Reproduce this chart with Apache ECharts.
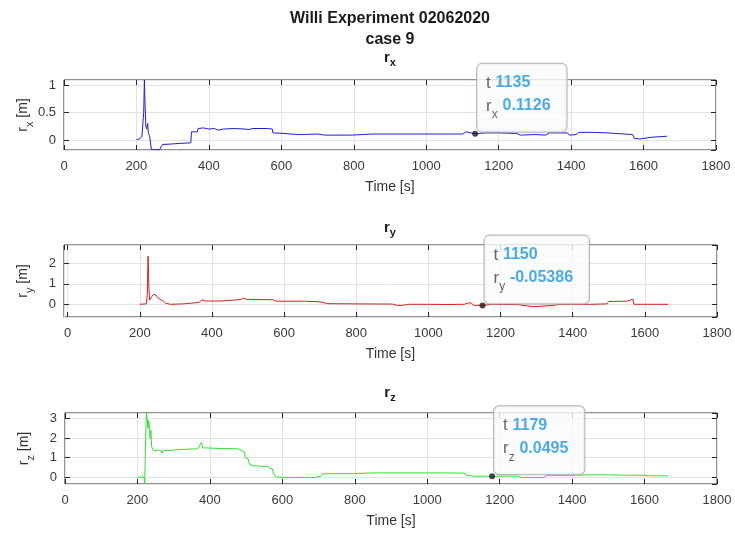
<!DOCTYPE html>
<html><head><meta charset="utf-8">
<script src="https://cdn.jsdelivr.net/npm/echarts@6/dist/echarts.min.js"></script>
<style>html,body{margin:0;padding:0;background:#fff}#c{width:735px;height:534px}</style>
</head><body><div id="c"></div>
<script>
// ---------- data ----------
const rxTime  = [200,208,215,218,220,222,224,226,228,231,233,236,238,241,245,264,268,272,300,320,322,350,352,368,370,385,400,415,425,440,470,500,510,520,560,575,577,610,625,650,700,720,795,800,850,900,1000,1100,1105,1110,1115,1135,1160,1200,1250,1260,1300,1330,1340,1390,1395,1415,1420,1460,1500,1505,1570,1575,1590,1595,1620,1625,1665];
const rxValue = [0.01,0.02,0.06,0.05,0.5,1.09,0.6,0.25,0.2,0.3,0.12,0.08,0.0,-0.17,-0.18,-0.18,-0.12,-0.08,-0.07,-0.06,-0.05,-0.05,0.15,0.15,0.21,0.22,0.20,0.21,0.18,0.20,0.21,0.20,0.19,0.21,0.21,0.20,0.13,0.12,0.11,0.10,0.11,0.09,0.09,0.12,0.11,0.11,0.11,0.11,0.14,0.15,0.12,0.1126,0.13,0.13,0.12,0.09,0.10,0.09,0.13,0.13,0.09,0.10,0.14,0.14,0.13,0.11,0.10,0.03,0.02,0.05,0.05,0.07,0.07];

const ryTime  = [200,218,221,223,225,227,230,233,236,239,242,245,250,255,260,266,272,285,320,325,365,372,377,382,425,430,480,488,495,570,578,660,700,720,800,900,915,930,945,1000,1050,1100,1110,1120,1125,1150,1165,1180,1250,1255,1290,1295,1350,1360,1400,1450,1495,1500,1550,1560,1567,1570,1600,1665];
const ryValue = [0.0,0.02,0.5,2.35,1.0,0.2,0.25,0.38,0.45,0.48,0.42,0.45,0.32,0.30,0.20,0.15,0.05,0.0,0.02,0.08,0.09,0.22,0.28,0.16,0.16,0.22,0.23,0.30,0.24,0.22,0.15,0.15,0.12,0.03,0.02,0.01,-0.06,-0.05,0.0,0.0,-0.01,0.0,0.07,0.05,-0.05,-0.05386,-0.03,0.0,-0.02,-0.10,-0.12,-0.06,-0.05,0.0,0.0,0.0,0.02,0.14,0.15,0.20,0.25,0.0,0.0,0.0];

const rzTime  = [200,218,220,222,224,225,227,229,231,233,235,237,239,242,250,258,264,267,270,275,320,360,368,372,377,380,390,430,480,488,495,498,505,510,520,560,566,572,578,585,620,690,705,712,720,790,795,850,950,1050,1100,1110,1130,1179,1250,1260,1320,1330,1400,1450,1500,1550,1600,1610,1665];
const rzValue = [0.0,0.0,-0.35,1.5,2.8,3.28,3.0,2.5,2.9,2.6,2.0,2.4,1.6,1.4,1.35,1.4,1.38,1.22,1.35,1.42,1.42,1.45,1.5,1.6,1.78,1.5,1.5,1.47,1.45,1.35,1.3,1.0,0.95,0.65,0.58,0.55,0.45,0.42,0.1,0.0,-0.02,-0.02,0.05,0.15,0.18,0.18,0.21,0.22,0.22,0.22,0.21,0.10,0.05,0.0495,0.06,-0.02,-0.02,0.08,0.10,0.12,0.12,0.10,0.10,0.07,0.07];

const xTickLabels = [0,200,400,600,800,1000,1200,1400,1600,1800];
const xMins = [0, -10, 0];
const xMaxs = [1800, 1800, 1800];
const yMins = [-0.18, -0.62, -0.35];
const yMaxs = [1.09, 2.89, 3.29];
const ySteps = [0.5, 1, 1];
const subNames = ['x', 'y', 'z'];
const lineColors = ['#1f1fcf', '#d42020', '#2fe02f'];
const tipTimes  = [1135, 1150, 1179];
const tipValues = [0.1126, -0.05386, 0.0495];
const tipTexts  = ['0.1126', '-0.05386', '0.0495'];

// ---------- layout / style ----------
const grids = [
  {left: 64, top: 80, width: 652, height: 70},
  {left: 64, top: 245, width: 653, height: 72},
  {left: 65, top: 413, width: 652, height: 71}
];
const subTitleTops = [50, 220, 385];
const FONT = "'Liberation Sans',Arial,sans-serif";
const AX = '#262626';

const series = [[rxTime, rxValue], [ryTime, ryValue], [rzTime, rzValue]];

const option = {
  animation: false,
  backgroundColor: '#ffffff',
  title: [],
  grid: [],
  xAxis: [],
  yAxis: [],
  series: []
};

option.title.push({
  text: 'Willi Experiment 02062020\ncase 9',
  left: 390, top: 8, padding: 0, textAlign: 'center',
  textStyle: {fontFamily: FONT, fontWeight: 'bold', fontSize: 16, lineHeight: 21, color: '#1a1a1a'}
});

const fmt = v => String(v);
const noLine = {show: false, onZero: false};

for (let i = 0; i < 3; i++) {
  const g = grids[i];
  option.grid.push(Object.assign({show: true, borderColor: AX, borderWidth: 1, backgroundColor: '#fff', containLabel: false}, g));
  option.title.push({
    text: '{a|r}{b|' + subNames[i] + '}',
    left: 390, top: subTitleTops[i], padding: 0, textAlign: 'center',
    textStyle: {rich: {
      a: {fontFamily: FONT, fontWeight: 'bold', fontSize: 15, color: '#1a1a1a', lineHeight: 18, verticalAlign: 'top'},
      b: {fontFamily: FONT, fontWeight: 'bold', fontSize: 11, color: '#1a1a1a', lineHeight: 11, verticalAlign: 'bottom'}
    }}
  });
  // main x axis
  option.xAxis.push({
    type: 'value', gridIndex: i, position: 'bottom',
    min: xMins[i], max: xMaxs[i], minInterval: 200, maxInterval: 200,
    name: 'Time [s]', nameLocation: 'middle', nameGap: 30, nameMoveOverlap: false,
    nameTextStyle: {fontFamily: FONT, fontSize: 14, color: '#333'},
    axisLine: noLine,
    axisTick: {show: true, inside: true, length: 5, lineStyle: {color: AX}},
    axisLabel: {show: true, margin: 10, fontFamily: FONT, fontSize: 13, color: '#3a3a3a', formatter: fmt,
      showMinLabel: xMins[i] === 0, showMaxLabel: true},
    splitLine: {show: true, lineStyle: {color: '#e3e3e3', width: 1}}
  });
  // mirrored top ticks
  option.xAxis.push({
    type: 'value', gridIndex: i, position: 'top',
    min: xMins[i], max: xMaxs[i], minInterval: 200, maxInterval: 200,
    axisLine: noLine,
    axisTick: {show: true, inside: true, length: 5, lineStyle: {color: AX}},
    axisLabel: {show: false}, splitLine: {show: false}
  });
  option.yAxis.push({
    type: 'value', gridIndex: i, position: 'left',
    min: yMins[i], max: yMaxs[i], minInterval: ySteps[i], maxInterval: ySteps[i],
    name: '{a|r}{b|' + subNames[i] + '}{a| [m]}', nameLocation: 'middle', nameGap: 29, nameMoveOverlap: false,
    nameTextStyle: {rich: {
      a: {fontFamily: FONT, fontSize: 14, color: '#333', lineHeight: 19, verticalAlign: 'top'},
      b: {fontFamily: FONT, fontSize: 11, color: '#333', lineHeight: 11, verticalAlign: 'bottom'}
    }},
    axisLine: noLine,
    axisTick: {show: true, inside: true, length: 5, lineStyle: {color: AX}},
    axisLabel: {show: true, margin: 8, fontFamily: FONT, fontSize: 13, color: '#3a3a3a', formatter: fmt,
      showMinLabel: false, showMaxLabel: false},
    splitLine: {show: true, lineStyle: {color: '#e3e3e3', width: 1}}
  });
  option.yAxis.push({
    type: 'value', gridIndex: i, position: 'right',
    min: yMins[i], max: yMaxs[i], minInterval: ySteps[i], maxInterval: ySteps[i],
    axisLine: noLine,
    axisTick: {show: true, inside: true, length: 5, lineStyle: {color: AX}},
    axisLabel: {show: false}, splitLine: {show: false}
  });
  const [ts, vs] = series[i];
  option.series.push({
    type: 'line', xAxisIndex: 2 * i, yAxisIndex: 2 * i,
    data: ts.map((t, k) => [t, vs[k]]),
    showSymbol: false, symbol: 'none', clip: true, z: 3,
    lineStyle: {color: lineColors[i], width: 1}
  });
  option.series.push({
    type: 'scatter', xAxisIndex: 2 * i, yAxisIndex: 2 * i, z: 10,
    data: [[tipTimes[i], tipValues[i]]],
    symbol: 'circle', symbolSize: 6, itemStyle: {color: '#1a1a1a'},
    label: {
      show: true, position: [5, 1], align: 'left', verticalAlign: 'bottom',
      formatter: '{k|t }{v|' + tipTimes[i] + '}\n{k|r}{s|' + subNames[i] + '}{k| }{v|' + tipTexts[i] + '}',
      backgroundColor: '#f8fafc', borderColor: '#a0a0a0', borderWidth: 1, borderRadius: 5,
      padding: [11, 16, 11, 9],
      rich: {
        k: {fontFamily: FONT, fontSize: 17, color: '#404040', lineHeight: 23, verticalAlign: 'top'},
        s: {fontFamily: FONT, fontSize: 12, color: '#404040', lineHeight: 13, verticalAlign: 'bottom'},
        v: {fontFamily: FONT, fontSize: 16, fontWeight: 'bold', color: '#1e96e6', lineHeight: 23, verticalAlign: 'top'}
      }
    }
  });
}

const chart = echarts.init(document.getElementById('c'), null, {renderer: 'canvas'});
chart.setOption(option);
</script>
</body></html>
